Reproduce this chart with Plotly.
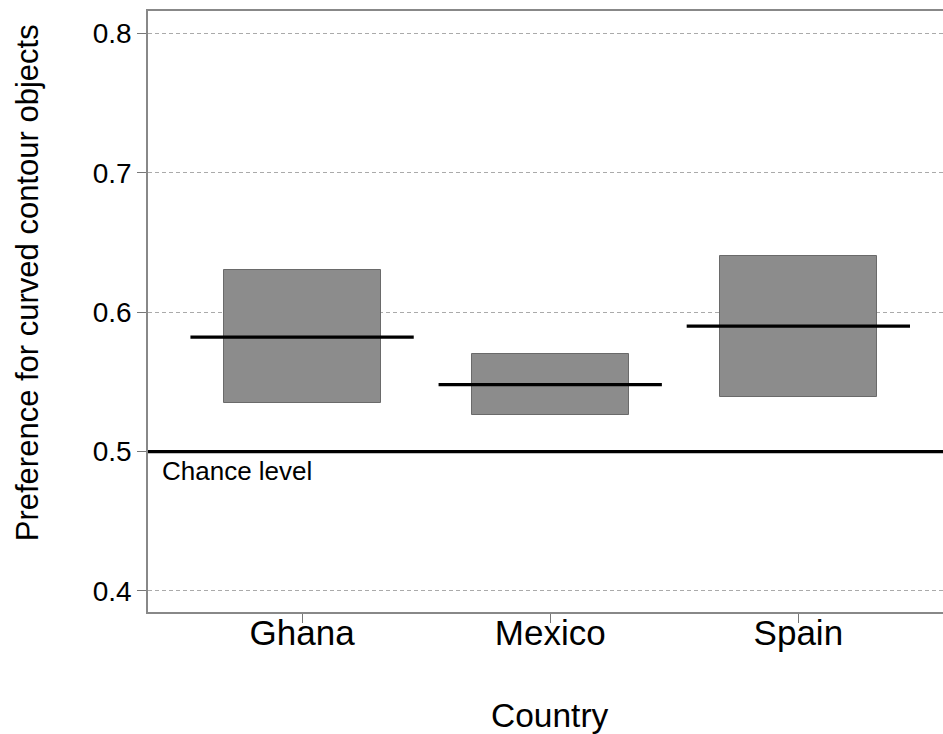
import plotly.graph_objects as go

countries = ["Ghana", "Mexico", "Spain"]
lower = [0.535, 0.526, 0.539]
upper = [0.630, 0.570, 0.640]
median = [0.582, 0.548, 0.590]
chance = 0.5
y_ticks = [0.4, 0.5, 0.6, 0.7, 0.8]

FONT = "Liberation Sans, Arial, Helvetica, sans-serif"
pos = list(range(len(countries)))
half = 0.45

fig = go.Figure()
fig.add_trace(go.Bar(
    x=pos, y=[u - l for u, l in zip(upper, lower)], base=lower,
    width=0.633, marker=dict(color="#8c8c8c", line=dict(color="#6a6a6a", width=1)),
    showlegend=False, hoverinfo="skip"))

mx, my = [], []
for p, m in zip(pos, median):
    mx += [p - half, p + half, None]
    my += [m, m, None]
fig.add_trace(go.Scatter(x=mx, y=my, mode="lines",
                         line=dict(color="black", width=3.2), showlegend=False))

fig.add_shape(type="line", xref="paper", x0=0, x1=1, yref="y", y0=chance, y1=chance,
              line=dict(color="black", width=3.2))
fig.add_annotation(xref="paper", x=0, xanchor="left", xshift=12,
                   yref="y", y=chance, yanchor="top", yshift=-2,
                   text="Chance level", showarrow=False,
                   font=dict(family=FONT, size=26, color="black"))

fig.add_annotation(xref="paper", x=0, xanchor="center", xshift=-121,
                   yref="paper", y=0.547, yanchor="middle",
                   text="Preference for curved contour objects", textangle=-90,
                   showarrow=False, font=dict(family=FONT, size=31, color="black"))
fig.add_annotation(xref="x", x=1, xanchor="center",
                   yref="paper", y=0, yanchor="middle", yshift=-103,
                   text="Country", showarrow=False,
                   font=dict(family=FONT, size=33.5, color="black"))

fig.update_layout(
    width=943, height=734,
    margin=dict(l=148, r=0, t=11, b=122),
    paper_bgcolor="white", plot_bgcolor="white",
    font=dict(family=FONT, color="black"),
    bargap=0,
)
fig.update_xaxes(
    range=[-0.621, 2.583], tickmode="array", tickvals=pos, ticktext=countries,
    ticks="outside", ticklen=9, tickwidth=1, tickcolor="#777777",
    tickfont=dict(family=FONT, size=35, color="black"), ticklabelstandoff=-20,
    showline=True, linecolor="#888888", linewidth=1.5, mirror=True,
    showgrid=False, zeroline=False)
fig.update_yaxes(
    range=[0.3849, 0.816], tickmode="array", tickvals=y_ticks,
    ticktext=[f"{v:.1f}" for v in y_ticks],
    ticks="outside", ticklen=9, tickwidth=1, tickcolor="#777777",
    tickfont=dict(family=FONT, size=28, color="black"),
    showline=True, linecolor="#888888", linewidth=1.5, mirror=False,
    showgrid=True, gridcolor="#aaaaaa", gridwidth=1.2, griddash="4px,3px",
    zeroline=False)

fig.write_html("out.html", config={"displayModeBar": False},
               post_script="document.body.style.margin='0';")
